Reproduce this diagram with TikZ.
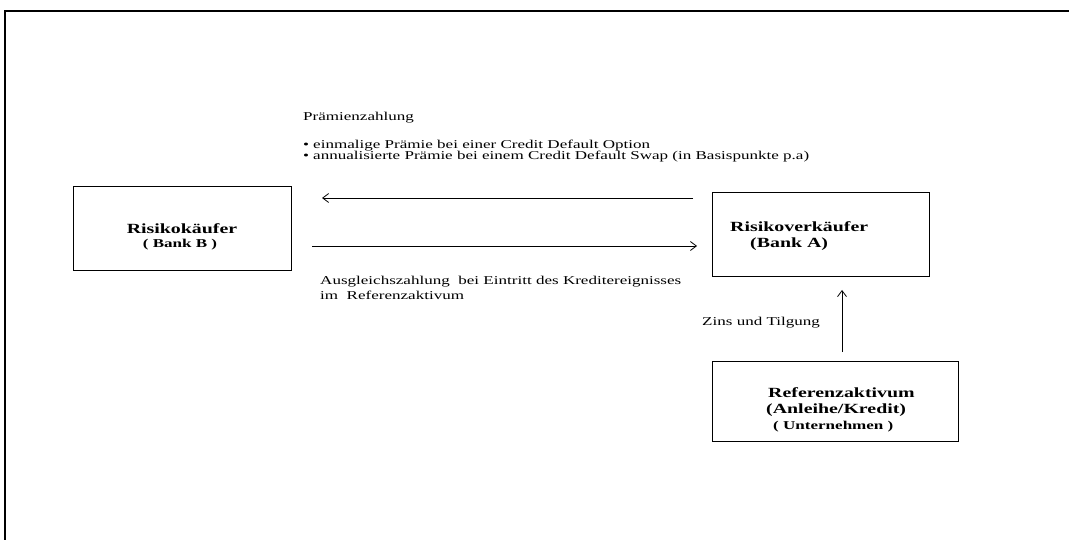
\documentclass[tikz,border=0pt]{standalone}
\usepackage{fontspec}
\setmainfont{Liberation Serif}
\newfontfamily\tnr[FakeStretch=1.42]{Liberation Serif}
\usetikzlibrary{arrows.meta,calc}
\tikzset{
  box/.style={draw, line width=1pt, inner sep=0pt},
  arr/.style={line width=0.8pt, -{Straight Barb[length=6pt,width=9pt,line width=0.8pt]}},
  reg/.style={font=\tnr\fontsize{12}{14}\selectfont, inner sep=0pt, anchor=base west},
  bld/.style={font=\tnr\fontsize{14}{16}\selectfont\bfseries, inner sep=0pt, anchor=base west},
  bldc/.style={font=\tnr\fontsize{14}{16}\selectfont\bfseries, inner sep=0pt, anchor=base},
  sbld/.style={font=\tnr\fontsize{12}{14}\selectfont\bfseries, inner sep=0pt},
}
\begin{document}
\begin{tikzpicture}[x=1pt,y=-1pt]
\useasboundingbox (0,0) rectangle (1069,540);
% frame
\draw[line width=1.5pt] (5,545) -- (5,11) -- (1080,11);
% boxes
\node[box, minimum width=218pt, minimum height=84pt] (buy) at (182,229) {};
\node[box, minimum width=217pt, minimum height=84pt] (sell) at (820.5,235) {};
\node[box, minimum width=246pt, minimum height=80pt] (ref) at (835,401) {};
% box texts
\node[bldc] (buy1) at (182,234) {Risikokäufer};
\node[sbld, anchor=base] (buy2) at (180,248) {( Bank B )};
\node[bld] (sell1) at (730,232) {Risikoverkäufer};
\node[bld] (sell2) at (750,248) {(Bank A)};
\node[bld] (ref1) at (768,397) {Referenzaktivum};
\node[bld] (ref2) at (766,413) {(Anleihe/Kredit)};
\node[sbld, anchor=base west] (ref3) at (773,429) {( Unternehmen )};
% arrows
\coordinate (p1s) at (693,198);
\coordinate (p1e) at (322,198);
\coordinate (p2s) at (312,246);
\coordinate (p2e) at (697,246);
\coordinate (p3s) at (842,352);
\coordinate (p3e) at (842,290);
\draw[arr] (p1s) -- (p1e);
\draw[arr] (p2s) -- (p2e);
\draw[arr] (p3s) -- (p3e);
% labels
\node[reg] (prem) at (303,121) {Prämienzahlung};
\node[reg] (b1d) at (303,149) {•};
\node[reg] (b1) at (313,149) {einmalige Prämie bei einer Credit Default Option};
\node[reg] (b2d) at (303,160) {•};
\node[reg] (b2) at (313,160) {annualisierte Prämie bei einem Credit Default Swap (in Basispunkte p.a)};
\node[reg] (aus1) at (320,285) {Ausgleichszahlung\ \ bei Eintritt des Kreditereignisses};
\node[reg] (aus2) at (320,299) {im\ \ Referenzaktivum};
\node[reg] (zins) at (702,325) {Zins und Tilgung};
\end{tikzpicture}
\end{document}
